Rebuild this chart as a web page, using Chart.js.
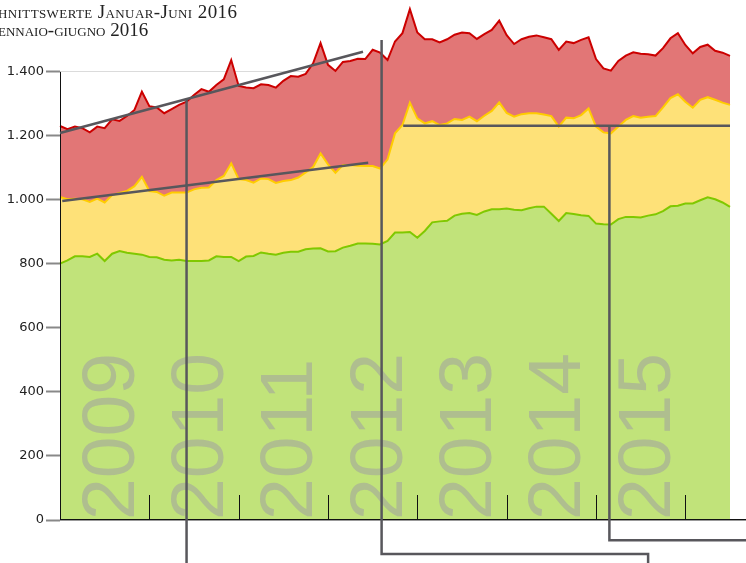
<!DOCTYPE html>
<html>
<head>
<meta charset="utf-8">
<script src="https://cdn.jsdelivr.net/npm/chart.js@4.4.0/dist/chart.umd.min.js"></script>
<style>
  html, body { margin: 0; padding: 0; background: #fff; overflow: hidden; }
  #wrap { position: relative; width: 746px; height: 563px; }
  #chart { position: absolute; left: 0; top: 0; }
  .title { position: absolute; left: -2px; font-family: 'Liberation Serif', serif; font-variant: small-caps;
           color: #222; white-space: nowrap; font-size: 19px; line-height: 1; }
</style>
</head>
<body>
<div id="wrap">
  <canvas id="chart" width="746" height="563"></canvas>
  <div class="title" style="top:2px; letter-spacing:0.4px">hnittswerte Januar-Juni 2016</div>
  <div class="title" style="top:20px">ennaio-giugno 2016</div>
</div>
<script>
// Monate Jan 2009 ... (91 Werte)
const years = ['2009', '2010', '2011', '2012', '2013', '2014', '2015', '2016'];
const yearLabels = ['2009', '2010', '2011', '2012', '2013', '2014', '2015'];
const months = [];
years.forEach(y => {
  for (let m = 1; m <= 12; m++) {
    if (months.length < 91) months.push(y + '-' + String(m).padStart(2, '0'));
  }
});

// untere Schicht (grün)
const green = [801, 811, 824, 824, 822, 832, 809, 832, 840, 835,
  832, 829, 822, 821, 813, 811, 813, 809, 809, 809,
  811, 824, 822, 822, 809, 823, 825, 836, 832, 829,
  835, 838, 838, 846, 848, 849, 839, 840, 851, 857,
  864, 864, 863, 861, 872, 898, 898, 900, 882, 903,
  930, 933, 935, 951, 957, 959, 953, 964, 971, 971,
  973, 969, 968, 974, 979, 979, 957, 934, 959, 956,
  952, 950, 926, 924, 923, 940, 947, 947, 945, 951,
  955, 965, 980, 982, 989, 989, 999, 1008, 1002, 992,
  978];

// mittlere Schicht (gelb)
const yellow = [208, 191, 180, 178, 172, 172, 183, 183, 182, 193,
  211, 243, 206, 204, 200, 212, 210, 214, 224, 229,
  228, 238, 253, 292, 256, 239, 229, 231, 233, 224,
  224, 224, 232, 240, 255, 296, 272, 245, 258, 252,
  243, 242, 243, 237, 255, 310, 336, 404, 373, 336,
  316, 301, 304, 302, 293, 301, 293, 299, 307, 334,
  299, 291, 300, 297, 292, 288, 305, 295, 298, 299,
  313, 336, 303, 287, 285, 289, 303, 315, 312, 309,
  307, 324, 338, 348, 318, 299, 314, 313, 311, 312,
  319];

// obere Schicht (rot)
const red = [222, 219, 225, 222, 217, 225, 232, 237, 225, 234,
  238, 266, 265, 264, 258, 261, 274, 284, 295, 308,
  299, 297, 302, 323, 291, 289, 295, 294, 294, 298,
  313, 325, 315, 308, 324, 345, 311, 318, 322, 325,
  334, 334, 363, 362, 310, 287, 287, 292, 268, 263,
  256, 258, 263, 263, 273, 261, 257, 255, 253, 255,
  243, 227, 234, 239, 243, 241, 240, 240, 238, 235,
  235, 222, 211, 200, 196, 205, 201, 199, 200, 195,
  189, 185, 187, 191, 177, 170, 165, 164, 153, 156,
  153];

const yTicks = [0, 200, 400, 600, 800, 1000, 1200, 1400];
const yTickLabels = ['0', '200', '400', '600', '800', '1.000', '1.200', '1.400'];

// Hilfslinien in Datenkoordinaten [Monat, Wert]
const annotations = [
  [[0, 1209], [40.7, 1463]],
  [[0.3, 997], [41.4, 1116]],
  [[17, 1315], [17, -170]],
  [[43.2, 1500], [43.2, -106], [79, -106], [79, -170]],
  [[46.1, 1232], [90, 1232]],
  [[73.8, 1232], [73.8, -63], [95, -63]]
];

const decor = {
  id: 'decor',
  afterDatasetsDraw(chart) {
    const { ctx, scales: { x, y } } = chart;
    ctx.save();
    ctx.font = '75px "Liberation Sans"';
    ctx.fillStyle = 'rgba(160,160,160,0.56)';
    ctx.textAlign = 'left';
    ctx.textBaseline = 'alphabetic';
    yearLabels.forEach((t, i) => {
      const cx = x.getPixelForValue(i * 12 + 6);
      ctx.save();
      ctx.translate(cx + 29, y.getPixelForValue(0));
      ctx.rotate(-Math.PI / 2);
      ctx.fillText(t, 0, 0);
      ctx.restore();
    });
    ctx.restore();
  },
  afterDraw(chart) {
    const { ctx, scales: { x, y } } = chart;
    const y0 = Math.round(y.getPixelForValue(0));
    ctx.save();
    // y-Achse
    ctx.strokeStyle = '#111';
    ctx.lineWidth = 1;
    ctx.beginPath();
    ctx.moveTo(60.5, y.getPixelForValue(1400));
    ctx.lineTo(60.5, y0);
    ctx.stroke();
    // x-Achse
    ctx.beginPath();
    ctx.moveTo(60, y0 - 0.5);
    ctx.lineTo(chart.width, y0 - 0.5);
    ctx.stroke();
    ctx.strokeStyle = '#999';
    ctx.beginPath();
    ctx.moveTo(60, y0 + 0.5);
    ctx.lineTo(chart.width, y0 + 0.5);
    ctx.stroke();
    // Jahresmarken
    ctx.strokeStyle = '#111';
    for (let k = 1; k <= 7; k++) {
      const px = Math.round(x.getPixelForValue(k * 12)) + 0.5;
      ctx.beginPath();
      ctx.moveTo(px, y0);
      ctx.lineTo(px, y0 - 25);
      ctx.stroke();
    }
    // Hilfslinien
    ctx.strokeStyle = '#58575c';
    ctx.lineWidth = 2.5;
    annotations.forEach(pts => {
      ctx.beginPath();
      pts.forEach(([m, v], i) => {
        const px = x.getPixelForValue(m);
        const py = y.getPixelForValue(v);
        if (i === 0) ctx.moveTo(px, py); else ctx.lineTo(px, py);
      });
      ctx.stroke();
    });
    ctx.restore();
  }
};

const ctx = document.getElementById('chart').getContext('2d');
new Chart(ctx, {
  type: 'line',
  data: {
    labels: months,
    datasets: [
      { label: 'grün', data: green, borderColor: '#80c800', backgroundColor: '#c1e37a',
        fill: 'origin', borderWidth: 2, pointRadius: 0, tension: 0, clip: false },
      { label: 'gelb', data: yellow, borderColor: '#ffcc00', backgroundColor: '#fee178',
        fill: '-1', borderWidth: 2, pointRadius: 0, tension: 0, clip: false },
      { label: 'rot', data: red, borderColor: '#cc0000', backgroundColor: '#e27676',
        fill: '-1', borderWidth: 2, pointRadius: 0, tension: 0, clip: false }
    ]
  },
  options: {
    responsive: false,
    animation: false,
    devicePixelRatio: 1,
    layout: { padding: { top: 0, right: 16, bottom: 43, left: 0 } },
    plugins: { legend: { display: false }, tooltip: { enabled: false } },
    scales: {
      x: { display: false, offset: false },
      y: {
        stacked: true,
        min: 0,
        max: 1594,
        z: 1,
        afterBuildTicks: s => { s.ticks = yTicks.map(v => ({ value: v })); },
        afterFit: s => { s.width = 60; },
        border: { display: false },
        grid: { color: 'rgba(0,0,0,0.14)', tickColor: '#888', tickLength: 14, tickWidth: 2, lineWidth: 1 },
        ticks: {
          padding: 2,
          color: '#222',
          font: { family: 'DejaVu Sans', size: 13 },
          callback: v => yTickLabels[yTicks.indexOf(v)]
        }
      }
    }
  },
  plugins: [decor]
});
</script>
</body>
</html>
